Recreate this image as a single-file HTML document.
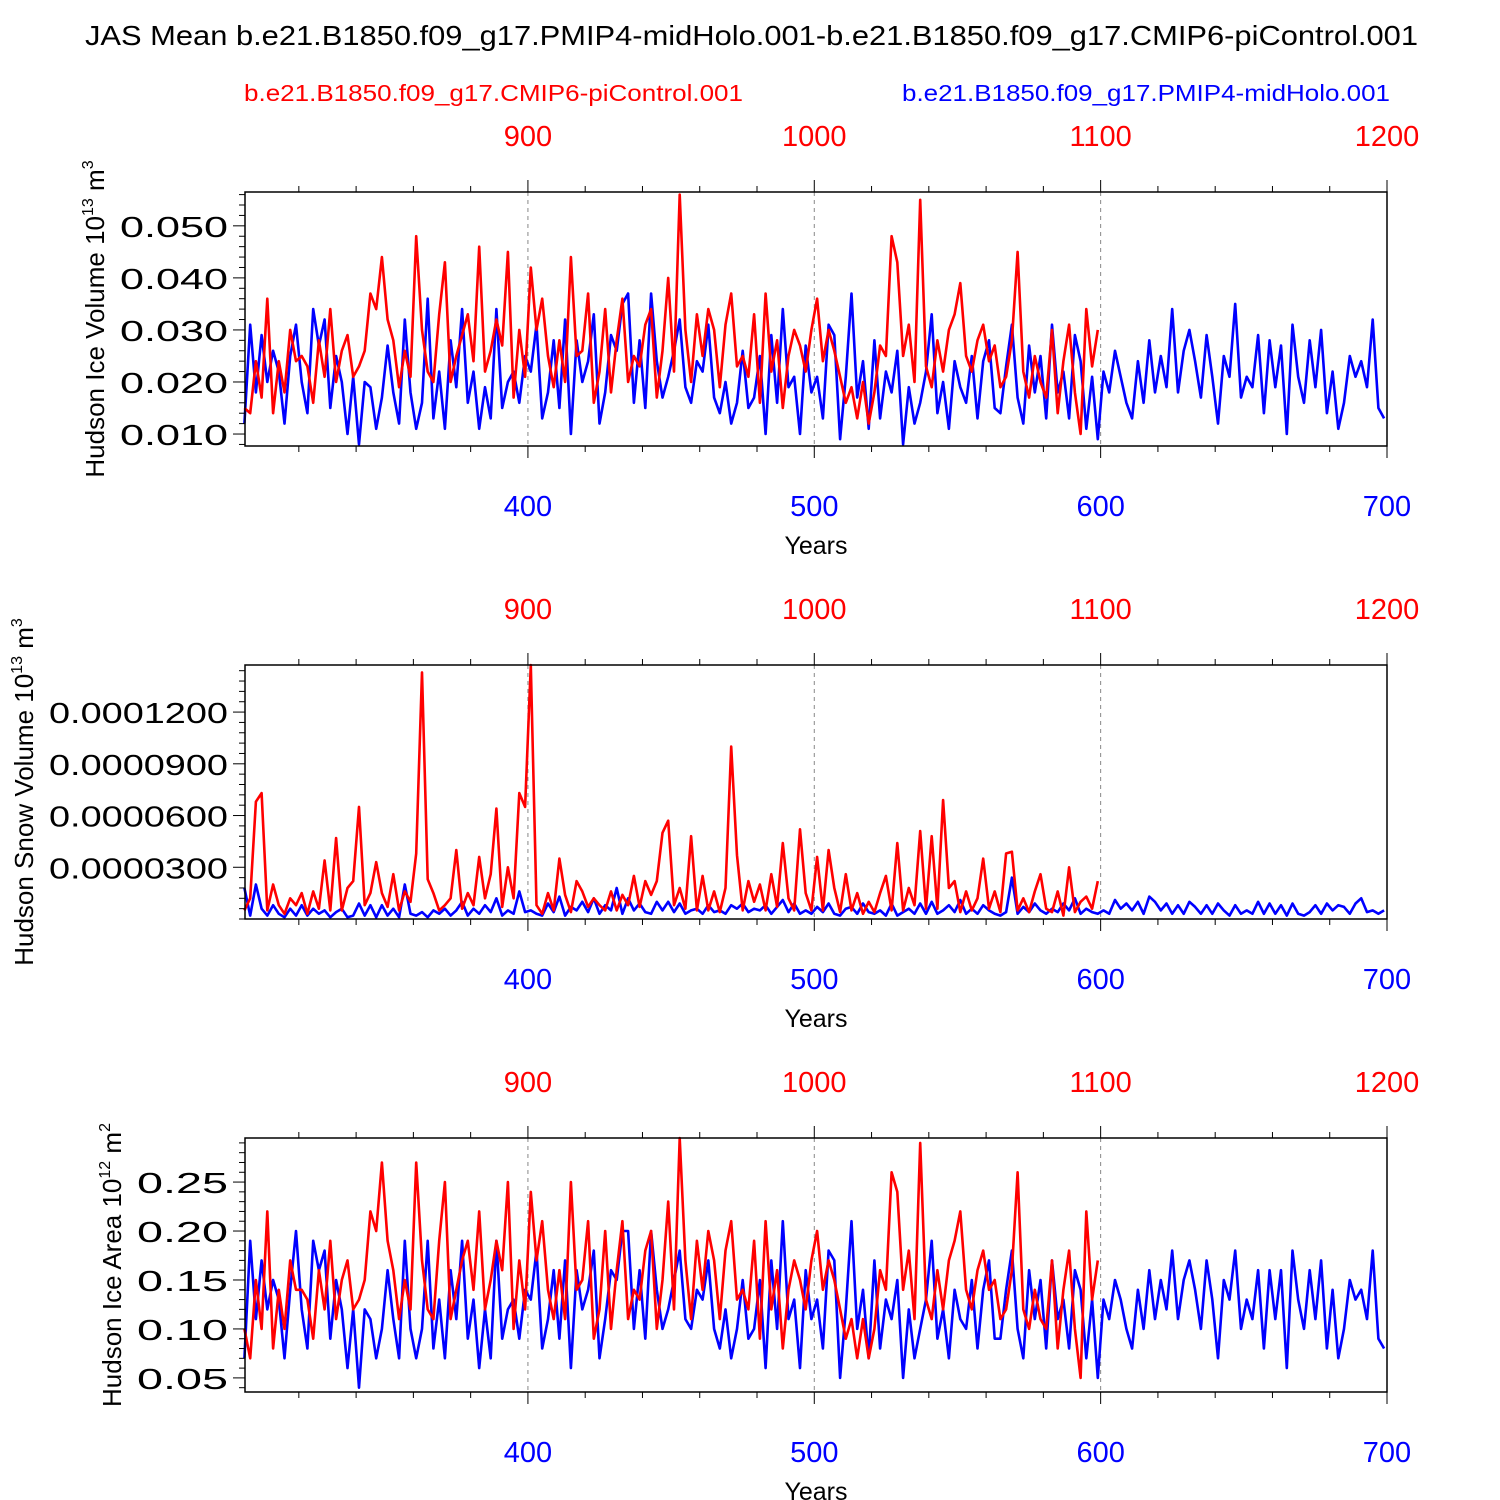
<!DOCTYPE html>
<html><head><meta charset="utf-8">
<style>html,body{margin:0;padding:0;background:#fff}svg{display:block;font-family:"Liberation Sans",Arial,sans-serif}</style>
</head><body>
<svg id="chart" width="1500" height="1500" viewBox="0 0 1500 1500" xmlns="http://www.w3.org/2000/svg">
<rect width="1500" height="1500" fill="#fff"/>
<text x="85" y="45" font-size="28" textLength="1333" lengthAdjust="spacingAndGlyphs">JAS Mean b.e21.B1850.f09_g17.PMIP4-midHolo.001-b.e21.B1850.f09_g17.CMIP6-piControl.001</text>
<text x="244" y="101" font-size="23" fill="#f00" textLength="499" lengthAdjust="spacingAndGlyphs">b.e21.B1850.f09_g17.CMIP6-piControl.001</text>
<text x="902" y="101" font-size="23" fill="#00f" textLength="488" lengthAdjust="spacingAndGlyphs">b.e21.B1850.f09_g17.PMIP4-midHolo.001</text>
</svg>
<script>
// ---- data (blue: years 301..699 step 2; red: years 801..1099 step 2, plotted at year-500) ----
const blueVolume=[.012,.031,.018,.029,.020,.026,.022,.012,.025,.031,.020,.014,.034,.027,.032,.015,.025,.020,.010,.021,.008,.020,.019,.011,.017,.027,.018,.012,.032,.018,.011,.016,.036,.013,.022,.011,.028,.019,.034,.016,.022,.011,.019,.013,.034,.015,.020,.022,.016,.025,.022,.031,.013,.018,.028,.015,.032,.010,.028,.020,.024,.033,.012,.018,.029,.026,.035,.037,.016,.028,.015,.037,.024,.017,.021,.026,.032,.019,.016,.024,.022,.031,.017,.014,.020,.012,.016,.026,.015,.017,.025,.010,.029,.016,.034,.019,.021,.010,.027,.018,.021,.013,.031,.029,.009,.021,.037,.017,.024,.011,.028,.013,.022,.018,.026,.008,.019,.012,.016,.022,.033,.014,.020,.011,.024,.019,.016,.025,.013,.024,.028,.015,.014,.023,.031,.017,.012,.027,.018,.025,.013,.031,.018,.022,.013,.029,.024,.011,.021,.009,.022,.018,.026,.021,.016,.013,.024,.016,.028,.018,.025,.019,.034,.018,.026,.030,.024,.017,.029,.021,.012,.025,.021,.035,.017,.021,.019,.029,.014,.028,.019,.027,.010,.031,.021,.016,.028,.019,.030,.014,.022,.011,.016,.025,.021,.024,.019,.032,.015,.013];
const redVolume=[.015,.014,.024,.017,.036,.014,.024,.018,.030,.024,.025,.023,.016,.028,.021,.034,.020,.026,.029,.021,.023,.026,.037,.034,.044,.032,.028,.019,.026,.021,.048,.030,.022,.020,.033,.043,.020,.025,.029,.033,.024,.046,.022,.026,.032,.027,.045,.017,.030,.021,.042,.030,.036,.025,.019,.028,.020,.044,.025,.026,.037,.016,.022,.034,.018,.028,.036,.020,.025,.023,.031,.034,.017,.026,.040,.022,.056,.030,.020,.033,.025,.034,.030,.019,.031,.037,.023,.025,.021,.033,.016,.037,.022,.028,.015,.025,.030,.027,.022,.030,.036,.024,.030,.026,.021,.016,.019,.013,.020,.012,.018,.027,.025,.048,.043,.025,.031,.020,.055,.023,.019,.028,.022,.030,.033,.039,.025,.022,.028,.031,.024,.027,.019,.021,.028,.045,.022,.017,.025,.020,.017,.030,.014,.024,.031,.018,.010,.034,.023,.030];
const blueSnow=[1.8,0.2,2.0,0.6,0.2,0.8,0.3,0.1,0.6,0.2,0.8,0.2,0.6,0.3,0.5,0.1,0.4,0.6,0.1,0.2,0.9,0.2,0.8,0.1,0.8,0.2,0.6,0.1,2.0,0.3,0.2,0.4,0.1,0.5,0.3,0.6,0.2,0.5,1.0,0.2,0.6,0.3,0.8,0.4,1.2,0.2,0.5,0.3,1.6,0.4,0.5,0.3,0.2,0.9,0.4,1.3,0.2,0.7,0.5,1.0,0.4,1.2,0.3,0.8,0.5,1.8,0.3,1.2,0.5,0.9,0.4,0.3,1.0,0.5,1.0,0.4,0.9,0.3,0.5,0.6,0.3,0.8,0.4,0.5,0.3,0.8,0.6,0.9,0.4,0.6,0.5,0.8,0.3,0.7,1.1,0.4,0.9,0.3,0.5,0.3,0.7,0.4,0.9,0.3,0.2,0.6,0.7,0.3,0.9,0.4,0.3,0.5,0.2,0.9,0.2,0.4,0.6,0.3,0.9,0.3,1.0,0.3,0.5,0.8,0.4,1.1,0.3,0.6,0.3,0.8,0.5,0.3,0.2,0.4,2.4,0.3,0.7,0.4,0.9,0.5,0.3,0.6,0.4,0.9,0.5,1.2,0.3,0.6,0.4,0.3,0.5,0.3,1.1,0.6,0.9,0.5,1.0,0.3,1.3,1.0,0.5,0.9,0.3,0.8,0.3,1.0,0.7,0.3,0.8,0.3,0.9,0.5,0.2,0.8,0.3,0.5,0.3,1.0,0.3,0.9,0.3,0.8,0.2,0.9,0.3,0.2,0.4,0.8,0.3,0.9,0.5,0.8,0.7,0.3,0.9,1.2,0.4,0.5,0.3,0.5];
const redSnow=[0.5,1.2,6.8,7.3,0.5,2.0,0.8,0.3,1.2,0.8,1.5,0.3,1.6,0.6,3.4,0.5,4.7,0.5,1.8,2.2,6.5,0.8,1.5,3.3,1.5,0.7,2.6,0.5,1.6,1.0,3.8,14.3,2.3,1.5,0.5,0.8,1.2,4.0,0.6,1.5,0.8,3.6,1.2,2.6,6.4,0.7,3.0,1.2,7.3,6.5,14.8,0.8,0.3,1.5,0.5,3.5,1.4,0.4,2.2,1.6,0.7,1.2,0.8,0.5,1.6,0.5,1.4,0.8,2.5,0.7,2.2,1.4,2.2,5.0,5.7,0.8,1.8,0.6,4.8,0.5,2.5,0.5,1.6,0.4,1.8,10.0,3.7,0.5,2.2,1.0,2.0,0.5,2.6,0.7,4.4,1.2,0.5,5.2,1.5,0.5,3.6,0.5,4.0,1.8,0.4,2.6,0.5,1.5,0.3,1.0,0.4,1.5,2.5,0.5,4.4,0.5,1.8,0.8,5.1,0.6,4.8,0.6,6.9,1.8,2.2,0.4,1.6,0.5,1.2,3.5,0.6,1.6,0.4,3.8,3.9,0.5,1.2,0.4,1.6,2.6,0.6,0.4,1.6,0.2,3.0,0.4,1.0,1.3,0.6,2.2];
const blueArea=[.07,.19,.11,.17,.12,.15,.13,.07,.14,.20,.12,.08,.19,.16,.18,.09,.15,.12,.06,.12,.04,.12,.11,.07,.10,.16,.11,.07,.19,.10,.07,.10,.19,.08,.13,.07,.16,.11,.19,.09,.13,.06,.12,.07,.19,.09,.12,.13,.09,.14,.13,.18,.08,.11,.16,.09,.17,.06,.16,.12,.14,.18,.07,.11,.16,.15,.20,.20,.10,.16,.09,.20,.14,.10,.12,.15,.18,.11,.10,.14,.13,.17,.10,.08,.12,.07,.10,.15,.09,.10,.15,.06,.17,.10,.21,.11,.13,.06,.16,.11,.13,.08,.18,.17,.05,.12,.21,.10,.14,.07,.17,.08,.13,.11,.15,.05,.12,.07,.10,.13,.19,.09,.12,.07,.14,.11,.10,.15,.08,.14,.17,.09,.09,.14,.18,.10,.07,.16,.11,.15,.08,.17,.11,.13,.08,.16,.14,.07,.13,.05,.13,.11,.15,.13,.10,.08,.14,.10,.16,.11,.15,.12,.18,.11,.15,.17,.14,.10,.17,.13,.07,.15,.13,.18,.10,.13,.11,.16,.08,.16,.11,.16,.06,.18,.13,.10,.16,.11,.17,.08,.14,.07,.10,.15,.13,.14,.11,.18,.09,.08];
const redArea=[.10,.07,.15,.10,.22,.08,.14,.10,.17,.14,.14,.13,.09,.16,.12,.19,.11,.15,.17,.12,.13,.15,.22,.20,.27,.19,.16,.11,.15,.12,.27,.17,.12,.11,.19,.25,.11,.14,.17,.19,.14,.22,.12,.15,.19,.16,.25,.10,.17,.12,.24,.17,.21,.14,.11,.16,.11,.25,.14,.15,.21,.09,.12,.20,.10,.16,.21,.11,.14,.13,.18,.20,.10,.15,.23,.12,.30,.17,.11,.19,.14,.20,.17,.11,.18,.21,.13,.14,.12,.19,.09,.21,.12,.16,.08,.14,.17,.15,.12,.17,.20,.14,.17,.15,.12,.09,.11,.07,.11,.07,.10,.16,.14,.26,.24,.14,.18,.11,.29,.13,.11,.16,.12,.17,.19,.22,.14,.12,.16,.18,.14,.15,.11,.12,.16,.26,.12,.10,.14,.11,.10,.17,.08,.14,.18,.10,.05,.22,.13,.17];
const bottomTicks=[400,500,600,700];
const topTicks=[900,1000,1100,1200];
const volTicks=[0.010,0.020,0.030,0.040,0.050];
const snowTicks=[3,6,9,12];
const snowTickLabels=["0.0000300","0.0000600","0.0000900","0.0001200"];
const areaTicks=[0.05,0.10,0.15,0.20,0.25];

const svg=document.getElementById('chart');
const NS='http://www.w3.org/2000/svg';
function mk(tag,attrs,parent){const e=document.createElementNS(NS,tag);for(const k in attrs)e.setAttribute(k,attrs[k]);(parent||svg).appendChild(e);return e;}
const X0=245,X1=1387,Y0=301.2,Y1=700;
function xs(y){return X0+(y-Y0)/(Y1-Y0)*(X1-X0);}

function panel(off,ymin,ymax,ticks,labels,labW,blue,red,titleParts,titleX,titleLen,name){
  const top=192+off,bot=446+off;
  const ys=v=>bot-(v-ymin)/(ymax-ymin)*(bot-top);
  const g=mk('g',{});
  
  
  [400,500,600].forEach(t=>{const l=mk('line',{x1:xs(t),x2:xs(t),y1:top,y2:bot,stroke:'#888','stroke-width':1,'stroke-dasharray':'4,4'},g);
    
    });
  const mkLine=(arr,start,col,nm)=>{let d='';arr.forEach((v,i)=>{const yr=start+2*i;const vv=Math.max(ymin,Math.min(ymax,v));d+=(i?'L':'M')+xs(yr).toFixed(1)+','+ys(vv).toFixed(1);});
    const p=mk('path',{d:d,fill:'none',stroke:col,'stroke-width':2.6,'stroke-linejoin':'round'},g);
    
    };
  mkLine(blue,301,'#00f','midholo-line');
  mkLine(red,801-500,'#f00','picontrol-line');
  const f=mk('rect',{x:X0,y:top,width:X1-X0,height:bot-top,fill:'none',stroke:'#000','stroke-width':1.5},g);
  
  
  for(let yr=320;yr<=700;yr+=20){const major=yr%100===0;const len=major?12:6;
    mk('line',{x1:xs(yr),x2:xs(yr),y1:bot,y2:bot+len,stroke:'#000','stroke-width':1},g);
    mk('line',{x1:xs(yr),x2:xs(yr),y1:top,y2:top-len,stroke:'#000','stroke-width':1},g);}
  bottomTicks.forEach(t=>{const tx=mk('text',{x:xs(t),y:bot+70,'font-size':29,fill:'#00f','text-anchor':'middle'},g);tx.textContent=t;
    
    });
  topTicks.forEach(t=>{const tx=mk('text',{x:xs(t-500),y:top-46,'font-size':29,fill:'#f00','text-anchor':'middle'},g);tx.textContent=t;
    
    });
  const xt=mk('text',{x:816,y:bot+108,'font-size':25,'text-anchor':'middle'},g);xt.textContent='Years';
  
  
  const step=(ticks[1]-ticks[0])/5;
  for(let v=ticks[0]-5*step;v<=ymax+1e-12;v+=step){if(v<ymin-1e-12)continue;const yy=ys(v);
    const major=ticks.some(t=>Math.abs(t-v)<step/10);
    mk('line',{x1:X0,x2:X0-(major?12:6),y1:yy,y2:yy,stroke:'#000','stroke-width':1},g);}
  ticks.forEach((t,i)=>{const tx=mk('text',{x:228-labW,y:ys(t)+11,'font-size':29,textLength:labW,lengthAdjust:'spacingAndGlyphs'},g);tx.textContent=labels[i];
    
    });
  const cy=(top+bot)/2;
  const tt=mk('text',{x:0,y:0,'font-size':26,'text-anchor':'middle',transform:`translate(${titleX},${cy}) rotate(-90)`},g);
  
  
  titleParts.forEach(p=>{const s=mk('tspan',p.sup?{'font-size':16,dy:-11}:(p.after?{dy:11}:{}),tt);s.textContent=p.t;});
}
panel(0,0.0077,0.0565,volTicks,volTicks.map(v=>v.toFixed(3)),108,blueVolume,redVolume,
  [{t:'Hudson Ice Volume 10'},{t:'13',sup:1},{t:' m',after:1},{t:'3',sup:1}],104,320,'ice-volume-panel');
panel(473,0,14.73,snowTicks,snowTickLabels,179,blueSnow,redSnow,
  [{t:'Hudson Snow Volume 10'},{t:'13',sup:1},{t:' m',after:1},{t:'3',sup:1}],33,350,'snow-volume-panel');
panel(946,0.0356,0.295,areaTicks,areaTicks.map(v=>v.toFixed(2)),91,blueArea,redArea,
  [{t:'Hudson Ice Area 10'},{t:'12',sup:1},{t:' m',after:1},{t:'2',sup:1}],121,280,'ice-area-panel');
</script>
</body></html>
